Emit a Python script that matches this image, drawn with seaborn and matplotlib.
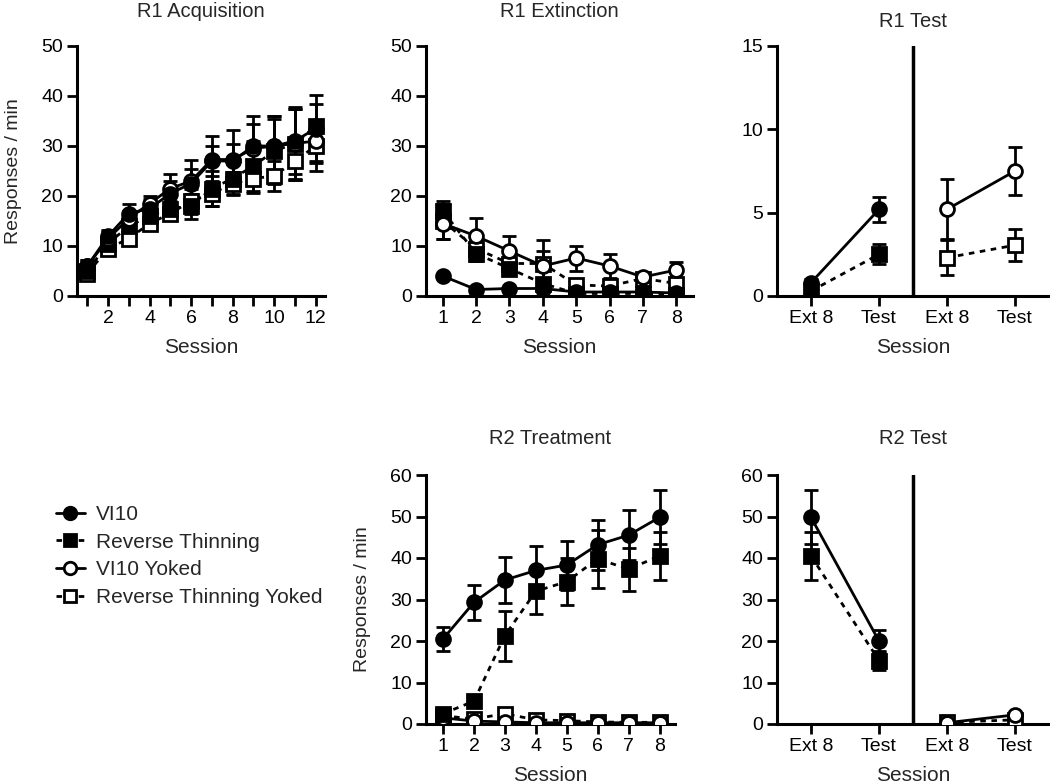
import matplotlib
matplotlib.use("Agg")
import matplotlib.pyplot as plt
from matplotlib.lines import Line2D
import seaborn as sns

sns.set_style("ticks")
plt.rcParams['font.family'] = ['Liberation Sans', 'DejaVu Sans']

# R1 acquisition, sessions 1-12
acq_x = list(range(1, 13))
acq_vi10 = [6, 12, 16.5, 17.5, 20.5, 22.5, 27, 27, 30, 30, 31, 33.5]
acq_vi10_err = [1.2, 1.3, 2, 2, 2.5, 3, 3, 3.5, 4.5, 6, 6.5, 6.8]
acq_rt = [5, 10.5, 14, 16, 17.5, 18, 21.5, 23.5, 26, 29, 30.5, 34]
acq_rt_err = [1, 1.5, 1.5, 1.5, 1.5, 2.5, 3.5, 3, 5, 6.5, 7, 4.5]
acq_vy = [6, 11.5, 15.5, 18.5, 21.5, 23, 27.3, 27.3, 29.5, 30, 30.5, 31]
acq_vy_err = [1.2, 1.5, 1.5, 1.5, 3, 4.3, 4.7, 6, 6.5, 6, 7.3, 4]
acq_rty = [4.5, 9.5, 11.5, 14.5, 16.5, 19, 20.5, 22.5, 23.5, 24, 27, 30]
acq_rty_err = [1, 1.3, 1.2, 1.2, 1, 2.5, 2.5, 2.3, 2.8, 3, 3.8, 5]

# R1 extinction, sessions 1-8
ext_x = list(range(1, 9))
ext_vi10 = [4, 1.3, 1.5, 1.5, 0.8, 0.8, 0.8, 0.6]
ext_vi10_err = [0.4, 0.3, 0.3, 0.3, 0.2, 0.2, 0.2, 0.2]
ext_rt = [17, 8.5, 5.5, 2.5, 0.5, 0.5, 0.5, 0.3]
ext_rt_err = [2, 1.5, 1.2, 1, 0.3, 0.3, 0.3, 0.2]
ext_vy = [14.5, 12, 9, 6, 7.6, 6, 3.8, 5.2]
ext_vy_err = [3, 3.7, 3, 3, 2.5, 2.4, 0.8, 1.7]
ext_rty = [15, 9.5, 6.5, 6.5, 2.2, 2, 3.5, 2.5]
ext_rty_err = [3.5, 1.5, 1.3, 4.8, 1.2, 1.2, 0.8, 1]

# R1 test (Ext 8, Test)
r1t_vi10 = [0.8, 5.2]
r1t_vi10_err = [0.2, 0.75]
r1t_rt = [0.3, 2.5]
r1t_rt_err = [0.15, 0.6]
r1t_vy = [5.2, 7.5]
r1t_vy_err = [1.8, 1.45]
r1t_rty = [2.3, 3.05]
r1t_rty_err = [1.05, 0.95]

# R2 treatment, sessions 1-8
trt_x = list(range(1, 9))
trt_vi10 = [20.5, 29.3, 34.7, 37, 38.3, 43.2, 45.5, 49.8]
trt_vi10_err = [2.9, 4.2, 5.5, 5.8, 5.9, 6, 6, 6.5]
trt_rt = [2.5, 5.5, 21.3, 32, 34.3, 39.8, 37.3, 40.5]
trt_rt_err = [0.8, 1.5, 6, 5.5, 5.7, 7, 5.2, 5.7]
trt_vy = [1.5, 0.7, 0.5, 0.3, 0.3, 0.3, 0.3, 0.3]
trt_vy_err = [0.5, 0.3, 0.2, 0.2, 0.2, 0.2, 0.2, 0.2]
trt_rty = [2.0, 1.2, 2.5, 1.0, 0.8, 0.5, 0.4, 0.4]
trt_rty_err = [0.6, 0.5, 0.8, 0.4, 0.3, 0.3, 0.2, 0.2]

# R2 test (Ext 8, Test)
r2t_vi10 = [49.8, 20]
r2t_vi10_err = [6.5, 2.7]
r2t_rt = [40.5, 15.3]
r2t_rt_err = [5.7, 2.4]
r2t_vy = [0.3, 2.2]
r2t_vy_err = [0.2, 0.4]
r2t_rty = [0.4, 1.0]
r2t_rty_err = [0.2, 0.4]

test_labels = ["Ext 8", "Test", "Ext 8", "Test"]
groups = ["VI10", "Reverse Thinning", "VI10 Yoked", "Reverse Thinning Yoked"]

styles = {
    "VI10": dict(marker="o", mfc="black", ls="-"),
    "Reverse Thinning": dict(marker="s", mfc="black", ls=(0, (2, 2))),
    "VI10 Yoked": dict(marker="o", mfc="white", ls="-"),
    "Reverse Thinning Yoked": dict(marker="s", mfc="white", ls=(0, (2, 2))),
}


def draw(ax, x, y, err, g):
    st = styles[g]
    ax.errorbar(x, y, yerr=err, fmt="none", ecolor="black", elinewidth=2,
                capsize=5, capthick=2, zorder=2)
    sns.lineplot(x=x, y=y, ax=ax, color="black", lw=2, linestyle=st["ls"],
                 marker=st["marker"], markersize=10, markerfacecolor=st["mfc"],
                 markeredgecolor="black", markeredgewidth=2, zorder=3,
                 legend=False)


def style_ax(ax, title, pad, ylim, yticks):
    for s in ["top", "right"]:
        ax.spines[s].set_visible(False)
    for s in ["left", "bottom"]:
        ax.spines[s].set_linewidth(2.2)
        ax.spines[s].set_color("black")
    ax.tick_params(direction="out", length=7, width=2, labelsize=14,
                   colors="black", pad=3)
    ax.set_ylim(*ylim)
    ax.set_yticks(yticks)
    ax.set_title(title, fontsize=14.5, pad=pad)
    ax.set_xlabel("Session", fontsize=15, labelpad=8)
    ax.set_ylabel("")


fig = plt.figure(figsize=(10.5, 7.84), dpi=100)
W, H = 1050, 784


def add_ax(l, r, t, b):
    return fig.add_axes([l / W, 1 - b / H, (r - l) / W, (b - t) / H])


# R1 Acquisition
ax = add_ax(77, 325, 46, 296)
draw(ax, acq_x, acq_rty, acq_rty_err, groups[3])
draw(ax, acq_x, acq_rt, acq_rt_err, groups[1])
draw(ax, acq_x, acq_vy, acq_vy_err, groups[2])
draw(ax, acq_x, acq_vi10, acq_vi10_err, groups[0])
style_ax(ax, "R1 Acquisition", 21, (0, 50), range(0, 51, 10))
ax.set_xlim(0.5, 12.45)
ax.set_xticks(acq_x)
ax.set_xticklabels([str(v) if v % 2 == 0 else "" for v in acq_x])
ax.set_ylabel("Responses / min", fontsize=14, labelpad=14)

# R1 Extinction
ax = add_ax(426, 693, 46, 296)
draw(ax, ext_x, ext_rty, ext_rty_err, groups[3])
draw(ax, ext_x, ext_rt, ext_rt_err, groups[1])
draw(ax, ext_x, ext_vy, ext_vy_err, groups[2])
draw(ax, ext_x, ext_vi10, ext_vi10_err, groups[0])
style_ax(ax, "R1 Extinction", 21, (0, 50), range(0, 51, 10))
ax.set_xlim(0.5, 8.5)
ax.set_xticks(ext_x)

# R1 Test
ax = add_ax(777, 1049, 46, 296)
draw(ax, [0, 1], r1t_rt, r1t_rt_err, groups[1])
draw(ax, [0, 1], r1t_vi10, r1t_vi10_err, groups[0])
draw(ax, [2, 3], r1t_rty, r1t_rty_err, groups[3])
draw(ax, [2, 3], r1t_vy, r1t_vy_err, groups[2])
style_ax(ax, "R1 Test", 14, (0, 15), range(0, 16, 5))
ax.axvline(1.5, color="black", lw=2.5, zorder=1)
ax.set_xlim(-0.5, 3.5)
ax.set_xticks(range(4))
ax.set_xticklabels(test_labels)

# R2 Treatment
ax = add_ax(426, 675, 475, 724)
draw(ax, trt_x, trt_rty, trt_rty_err, groups[3])
draw(ax, trt_x, trt_vy, trt_vy_err, groups[2])
draw(ax, trt_x, trt_rt, trt_rt_err, groups[1])
draw(ax, trt_x, trt_vi10, trt_vi10_err, groups[0])
style_ax(ax, "R2 Treatment", 22, (0, 60), range(0, 61, 10))
ax.set_xlim(0.45, 8.5)
ax.set_xticks(trt_x)
ax.set_ylabel("Responses / min", fontsize=14, labelpad=14)

# R2 Test
ax = add_ax(777, 1049, 475, 724)
draw(ax, [0, 1], r2t_rt, r2t_rt_err, groups[1])
draw(ax, [0, 1], r2t_vi10, r2t_vi10_err, groups[0])
draw(ax, [2, 3], r2t_rty, r2t_rty_err, groups[3])
draw(ax, [2, 3], r2t_vy, r2t_vy_err, groups[2])
style_ax(ax, "R2 Test", 22, (0, 60), range(0, 61, 10))
ax.axvline(1.5, color="black", lw=2.5, zorder=1)
ax.set_xlim(-0.5, 3.5)
ax.set_xticks(range(4))
ax.set_xticklabels(test_labels)

# legend
handles = [Line2D([], [], color="black", lw=2, linestyle=styles[g]["ls"],
                  marker=styles[g]["marker"], markersize=9,
                  markerfacecolor=styles[g]["mfc"], markeredgecolor="black",
                  markeredgewidth=2) for g in groups]
fig.legend(handles, groups, loc="center left", bbox_to_anchor=(37 / W, 1 - 556 / H),
           frameon=False, fontsize=15, handlelength=1.4, handletextpad=0.55,
           labelspacing=0.42)

fig.savefig("out.png", dpi=100)
